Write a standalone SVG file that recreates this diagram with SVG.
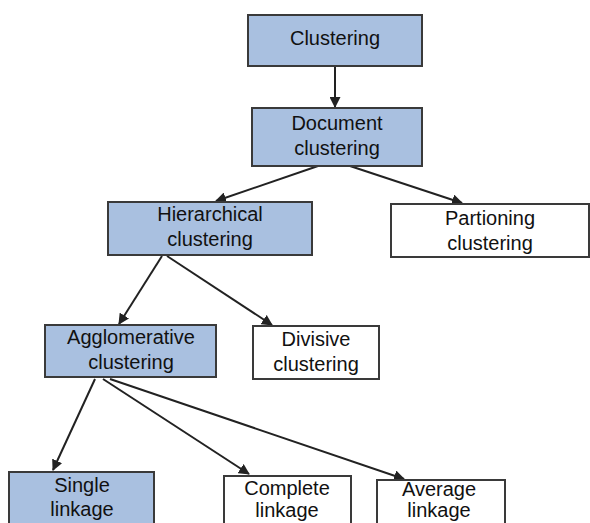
<svg xmlns="http://www.w3.org/2000/svg" width="590" height="523" viewBox="0 0 590 523">
<defs>
<marker id="ah" markerWidth="11" markerHeight="11" refX="10" refY="5.5" orient="auto" markerUnits="userSpaceOnUse" viewBox="0 0 11 11">
<path d="M0,0 L11,5.5 L0,11 z" fill="#222"/>
</marker>
</defs>
<style>
.b{fill:#a9c0e0;stroke:#3a3a3a;stroke-width:2}
.w{fill:#fff;stroke:#3a3a3a;stroke-width:2}
text{font-family:"Liberation Sans",Arial,sans-serif;font-size:20px;fill:#111;text-anchor:middle}
.c line{stroke:#222;stroke-width:2;marker-end:url(#ah)}
</style>
<rect width="590" height="523" fill="#fff"/>
<g class="c" id="connectors">
<line x1="335" y1="67" x2="335" y2="107"/>
<line x1="318" y1="166" x2="216" y2="201"/>
<line x1="350" y1="166" x2="462" y2="203"/>
<line x1="162" y1="256" x2="119" y2="324"/>
<line x1="167" y1="256" x2="272" y2="325"/>
<line x1="95" y1="379" x2="53" y2="470"/>
<line x1="103" y1="379" x2="249" y2="474"/>
<line x1="110" y1="379" x2="404" y2="479"/>
</g>
<g id="n-clustering"><rect class="b" x="248" y="15" width="174" height="51"/><text x="335" y="45">Clustering</text></g>
<g id="n-document"><rect class="b" x="252" y="108" width="170" height="58"/><text x="337" y="130">Document</text><text x="337" y="155">clustering</text></g>
<g id="n-hierarchical"><rect class="b" x="108" y="202" width="204" height="53"/><text x="210" y="221">Hierarchical</text><text x="210" y="246">clustering</text></g>
<g id="n-partioning"><rect class="w" x="391" y="204" width="198" height="53"/><text x="490" y="225">Partioning</text><text x="490" y="250">clustering</text></g>
<g id="n-agglomerative"><rect class="b" x="45" y="325" width="171" height="52"/><text x="131" y="344">Agglomerative</text><text x="131" y="369">clustering</text></g>
<g id="n-divisive"><rect class="w" x="253" y="326" width="126" height="53"/><text x="316" y="346">Divisive</text><text x="316" y="371">clustering</text></g>
<g id="n-single"><rect class="b" x="9" y="472" width="145" height="60"/><text x="82" y="492">Single</text><text x="82" y="516">linkage</text></g>
<g id="n-complete"><rect class="w" x="224" y="476" width="127" height="56"/><text x="287" y="495">Complete</text><text x="287" y="517">linkage</text></g>
<g id="n-average"><rect class="w" x="377" y="480" width="128" height="52"/><text x="439" y="496">Average</text><text x="439" y="517">linkage</text></g>
</svg>
